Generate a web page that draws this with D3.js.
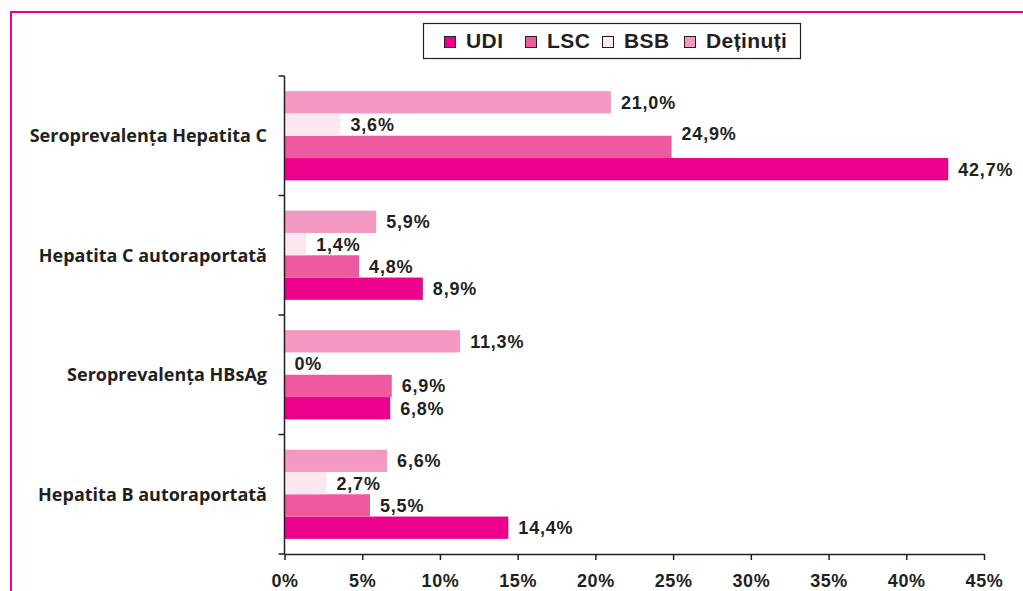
<!DOCTYPE html>
<html>
<head>
<meta charset="utf-8">
<script src="https://cdn.jsdelivr.net/npm/d3@7"></script>
<style>
  body { margin: 0; background: #fff; }
  svg { display: block; }
  .val, .tick text, .legend text { font-family: "Liberation Sans", Arial, sans-serif; font-weight: bold; fill: #231f20; }
  .cat { font-family: "Open Sans", Lato, sans-serif; font-weight: bold; fill: #231f20; }
</style>
</head>
<body>
<div class="page"></div>
<script>
var categories = ['Seroprevalența Hepatita C', 'Hepatita C autoraportată', 'Seroprevalența HBsAg', 'Hepatita B autoraportată'];
var series = ['UDI', 'LSC', 'BSB', 'Deținuți'];
var udi = [42.7, 8.9, 6.8, 14.4];
var lsc = [24.9, 4.8, 6.9, 5.5];
var bsb = [3.6, 1.4, 0, 2.7];
var detinuti = [21.0, 5.9, 11.3, 6.6];
var xTicks = [0, 5, 10, 15, 20, 25, 30, 35, 40, 45];
var valueLabels = [
  ['42,7%', '8,9%', '6,8%', '14,4%'],
  ['24,9%', '4,8%', '6,9%', '5,5%'],
  ['3,6%', '1,4%', '0%', '2,7%'],
  ['21,0%', '5,9%', '11,3%', '6,6%']
];

var colors = { 'UDI': '#ec008c', 'LSC': '#ef599f', 'BSB': '#fde7f1', 'Deținuți': '#f49ac2' };
var values = [udi, lsc, bsb, detinuti];

var W = 1023, H = 591;
var svg = d3.select('.page').append('svg')
  .attr('width', W)
  .attr('height', H);

// pink frame, right and bottom edges fall outside the picture
svg.append('rect')
  .attr('x', 11).attr('y', 12)
  .attr('width', 1100).attr('height', 700)
  .attr('fill', 'none')
  .attr('stroke', '#ec008c')
  .attr('stroke-width', 2);

var x = d3.scaleLinear().domain([0, 45]).range([284.5, 984]);
var y = d3.scaleBand().domain(categories).range([76, 554]).padding(0);
var inner = d3.scaleBand().domain(series.slice().reverse())
  .range([0, y.bandwidth()]).paddingInner(0).paddingOuter(0.68);

var rows = [];
categories.forEach(function(c, ci) {
  series.forEach(function(s, si) {
    rows.push({ cat: c, ser: s, v: values[si][ci], label: valueLabels[si][ci] });
  });
});

svg.append('g').selectAll('rect').data(rows).enter()
  .append('rect')
  .attr('x', x(0))
  .attr('y', function(d) { return y(d.cat) + inner(d.ser); })
  .attr('width', function(d) { return x(d.v) - x(0); })
  .attr('height', inner.bandwidth())
  .attr('fill', function(d) { return colors[d.ser]; });

// the 24,9% label sits a little above its bar in the original
var nudge = { 'Seroprevalența Hepatita C|LSC': -13 };

svg.append('g').selectAll('text').data(rows).enter()
  .append('text')
  .attr('class', 'val')
  .attr('x', function(d) { return x(d.v) + 10; })
  .attr('y', function(d) { return y(d.cat) + inner(d.ser) + inner.bandwidth() / 2 + (nudge[d.cat + '|' + d.ser] || 0); })
  .attr('dy', '0.36em')
  .style('font-size', '18px')
  .style('letter-spacing', '0.8px')
  .text(function(d) { return d.label; });

// y axis: line with ticks at the category boundaries
var yAxis = svg.append('g').attr('stroke', '#231f20').attr('stroke-width', 1.5);
yAxis.append('line')
  .attr('x1', x(0)).attr('x2', x(0))
  .attr('y1', y.range()[0]).attr('y2', y.range()[1]);
yAxis.selectAll('.yt').data(categories.map(function(c) { return y(c); }).concat([y.range()[1]]))
  .enter().append('line')
  .attr('x1', x(0) - 6).attr('x2', x(0))
  .attr('y1', function(d) { return d; }).attr('y2', function(d) { return d; });

svg.append('g').selectAll('.cat').data(categories).enter()
  .append('text')
  .attr('class', 'cat')
  .attr('x', 267)
  .attr('y', function(d) { return y(d) + y.bandwidth() / 2; })
  .attr('dy', '0.35em')
  .attr('text-anchor', 'end')
  .style('font-size', '18px')
  .text(function(d) { return d; });

var xAxis = d3.axisBottom(x)
  .tickValues(xTicks)
  .tickFormat(function(d) { return d + '%'; })
  .tickSizeInner(6)
  .tickSizeOuter(0)
  .tickPadding(14);

var gx = svg.append('g')
  .attr('transform', 'translate(0,' + y.range()[1] + ')')
  .call(xAxis);
gx.select('.domain').attr('stroke', '#231f20').attr('stroke-width', 1.5);
gx.selectAll('.tick line').attr('stroke', '#231f20').attr('stroke-width', 1.5);
gx.selectAll('.tick text')
  .style('font-size', '18px')
  .style('letter-spacing', '0.6px')
  .attr('fill', '#231f20');

// legend
var legend = svg.append('g').attr('class', 'legend');
legend.append('rect')
  .attr('x', 423.5).attr('y', 23.5)
  .attr('width', 377).attr('height', 35)
  .attr('fill', '#fff')
  .attr('stroke', '#231f20')
  .attr('stroke-width', 1.2);
var legendX = [444, 525, 602, 684];
var items = legend.selectAll('.item').data(series).enter()
  .append('g')
  .attr('transform', function(d, i) { return 'translate(' + legendX[i] + ',36)'; });
items.append('rect')
  .attr('x', 0.5).attr('y', 0.5)
  .attr('width', 11).attr('height', 11)
  .attr('fill', function(d) { return colors[d]; })
  .attr('stroke', '#231f20')
  .attr('stroke-width', 1);
items.append('text')
  .attr('x', 22)
  .attr('y', 12)
  .style('font-size', '21px')
  .style('letter-spacing', '0.4px')
  .text(function(d) { return d; });
</script>
</body>
</html>
